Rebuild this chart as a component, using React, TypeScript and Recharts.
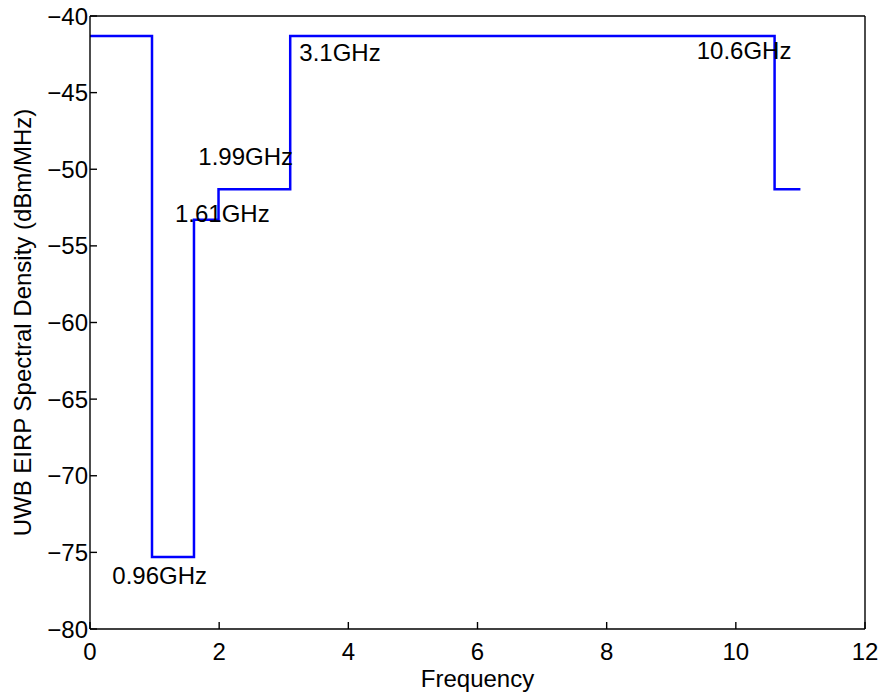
import React from 'react';
import { LineChart, Line, XAxis, YAxis, ReferenceDot } from 'recharts';

const freqs = [0, 0.96, 1.61, 1.99, 3.1, 10.6, 11];
const levels = [-41.3, -75.3, -53.3, -51.3, -41.3, -51.3, -51.3];
const xTicks = [0, 2, 4, 6, 8, 10, 12];
const yTicks = [-80, -75, -70, -65, -60, -55, -50, -45, -40];
const annotX = [0.345, 1.316, 1.677, 3.241, 9.394];
const annotY = [-76.48, -52.87, -49.19, -42.38, -42.21];
const annotText = ['0.96GHz', '1.61GHz', '1.99GHz', '3.1GHz', '10.6GHz'];

const data = freqs.map((f, i) => ({ f, v: levels[i] }));

const FONT = 'Liberation Sans, Arial, Helvetica, sans-serif';
const FS = 24;
const fmt = (v: number) => (v < 0 ? '\u2212' + Math.abs(v) : String(v));

export default function App() {
  return (
    <div style={{ position: 'absolute', left: 0, top: 0, width: 881, height: 692, background: '#fff' }}>
      <LineChart
        width={881}
        height={692}
        data={data}
        margin={{ top: 15, right: 15, left: 0, bottom: 0 }}
        style={{ fontFamily: FONT }}
      >
        <XAxis
          dataKey="f"
          type="number"
          domain={[0, 12]}
          ticks={xTicks}
          height={63}
          tickSize={-7}
          tickMargin={21}
          tickFormatter={fmt}
          stroke="#000"
          strokeWidth={1.4}
          tick={{ fill: '#000', fontSize: FS, fontFamily: FONT }}
          label={{ value: 'Frequency', position: 'insideBottom', offset: 5, fill: '#000', fontSize: FS, fontFamily: FONT }}
          allowDataOverflow
        />
        <XAxis
          xAxisId="top"
          orientation="top"
          dataKey="f"
          type="number"
          domain={[0, 12]}
          ticks={xTicks}
          height={1}
          tickSize={-7}
          tick={false}
          stroke="#000"
          strokeWidth={1.4}
        />
        <YAxis
          type="number"
          domain={[-80, -40]}
          ticks={yTicks}
          width={90}
          tickSize={-7}
          tickMargin={9}
          tickFormatter={fmt}
          stroke="#000"
          strokeWidth={1.4}
          tick={{ fill: '#000', fontSize: FS, fontFamily: FONT }}
          label={{
            value: 'UWB EIRP Spectral Density (dBm/MHz)',
            angle: -90,
            position: 'insideLeft',
            offset: 22,
            style: { textAnchor: 'middle' },
            fill: '#000',
            fontSize: FS,
            fontFamily: FONT,
          }}
          allowDataOverflow
        />
        <YAxis
          yAxisId="right"
          orientation="right"
          type="number"
          domain={[-80, -40]}
          ticks={yTicks}
          width={1}
          tickSize={-7}
          tick={false}
          stroke="#000"
          strokeWidth={1.4}
        />
        <Line
          type="stepAfter"
          dataKey="v"
          stroke="#0000ff"
          strokeWidth={2.5}
          dot={false}
          isAnimationActive={false}
        />
        {annotText.map((t, i) => (
          <ReferenceDot
            key={t}
            x={annotX[i]}
            y={annotY[i]}
            r={0.01}
            fill="none"
            stroke="none"
            label={(p: any) => {
              const vb = p.viewBox || {};
              const cx = (vb.x ?? 0) + (vb.width ?? 0) / 2;
              const cy = (vb.y ?? 0) + (vb.height ?? 0) / 2;
              return (
                <text x={cx} y={cy} dy="0.36em" textAnchor="start" fill="#000" fontSize={FS} fontFamily={FONT}>
                  {t}
                </text>
              );
            }}
          />
        ))}
      </LineChart>
    </div>
  );
}
